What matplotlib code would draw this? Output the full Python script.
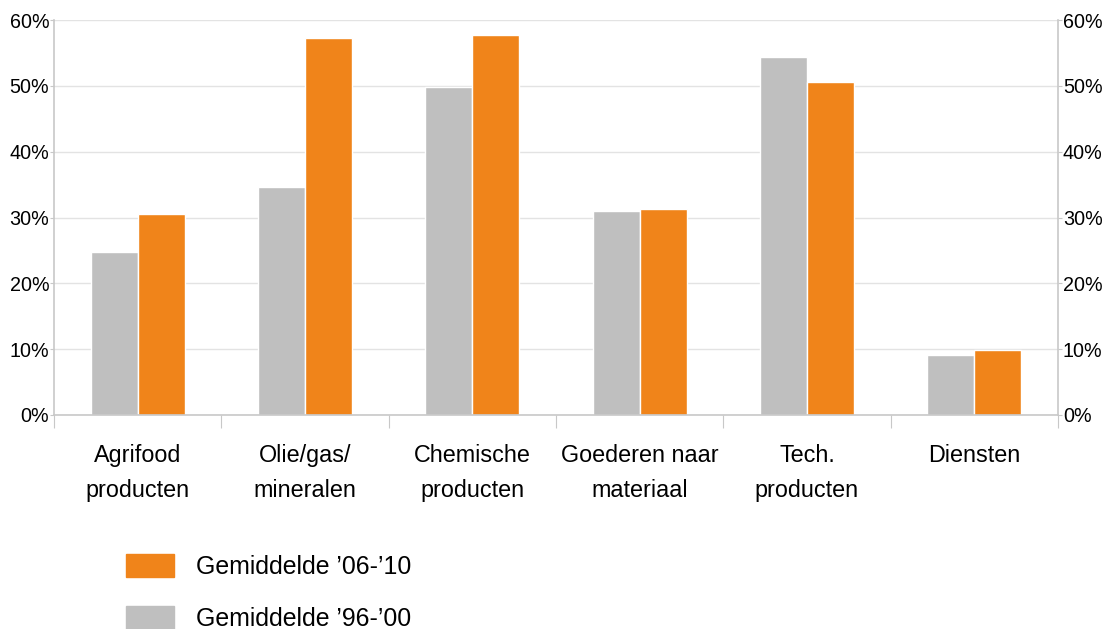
import numpy as np
import matplotlib.pyplot as plt
from matplotlib.patches import Patch

categories = ["Agrifood\nproducten", "Olie/gas/\nmineralen", "Chemische\nproducten",
              "Goederen naar\nmateriaal", "Tech.\nproducten", "Diensten"]
avg_96_00 = [24.8, 34.6, 49.8, 31.0, 54.4, 9.1]
avg_06_10 = [30.5, 57.2, 57.7, 31.3, 50.6, 9.8]
yticks = [0, 10, 20, 30, 40, 50, 60]

orange = "#f0841a"
grey = "#bfbfbf"
axis_col = "#c8c8c8"

plt.rcParams['font.family'] = ['Liberation Sans', 'DejaVu Sans']

fig = plt.figure(figsize=(11.1, 6.29), dpi=100)
ax = fig.add_axes([54 / 1110, 1 - 415 / 629, 1004 / 1110, 395 / 629])

x = np.arange(len(categories))
w = 0.28
ax.bar(x - w / 2, avg_96_00, w, color=grey, edgecolor="white", linewidth=1, zorder=2)
ax.bar(x + w / 2, avg_06_10, w, color=orange, edgecolor="white", linewidth=1, zorder=2)

ax.set_xlim(-0.5, len(categories) - 0.5)
ax.set_ylim(0, 60)
ax.set_yticks(yticks)
ax.set_yticklabels([f"{t}%" for t in yticks], fontsize=14.2)
ax.tick_params(axis="y", length=3, color=axis_col, pad=0.5, right=True, labelright=True)
ax.yaxis.grid(True, color="#e3e3e3", linewidth=1, zorder=0)
ax.set_axisbelow(True)

# category boundaries as ticks, labels centred on groups
ax.set_xticks(np.arange(len(categories) + 1) - 0.5)
ax.set_xticklabels([])
ax.set_xticks(x, minor=True)
ax.set_xticklabels(categories, minor=True, fontsize=16.8, linespacing=1.66)
ax.tick_params(axis="x", which="major", length=9, color=axis_col)
ax.tick_params(axis="x", which="minor", length=0, pad=21)

for side in ["left", "right", "bottom"]:
    ax.spines[side].set_color(axis_col)
    ax.spines[side].set_linewidth(1.2)
ax.spines["top"].set_visible(False)

handles = [Patch(color=orange, label="Gemiddelde \u201906-\u201910"),
           Patch(color=grey, label="Gemiddelde \u201996-\u201900")]
fig.legend(handles=handles, loc="upper left", bbox_to_anchor=(106 / 1110, 1 - 534 / 629),
           frameon=False, fontsize=17.9, handlelength=1.93, handleheight=1.03,
           handletextpad=0.9, labelspacing=1.1, borderpad=0.3)

fig.savefig("out.png", dpi=100)
